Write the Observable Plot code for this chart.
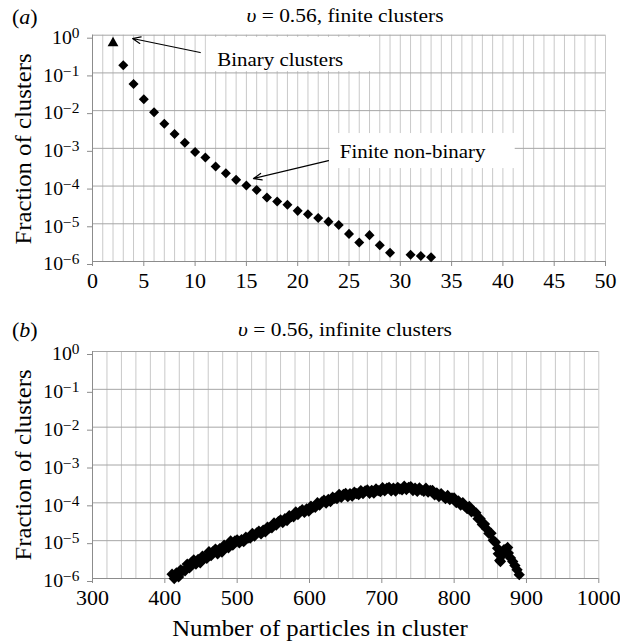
<!DOCTYPE html>
<html>
<head>
<meta charset="utf-8">
<script src="https://cdn.jsdelivr.net/npm/d3@7"></script>
<script src="https://cdn.jsdelivr.net/npm/@observablehq/plot@0.6"></script>
<style>
  body { margin: 0; background: #fff; }
  #fig { position: relative; width: 620px; height: 643px; overflow: hidden;
         font-family: "Liberation Serif", "Times New Roman", serif; color: #000; }
  #fig svg { position: absolute; left: 0; }
  .lbl { position: absolute; line-height: 1; white-space: nowrap; }
</style>
</head>
<body>
<div id="fig"></div>
<script>
// ---- data -------------------------------------------------------------
// (a) finite clusters: binary clusters (size 2) and finite non-binary clusters
const binarySize = [2];
const binaryFrac = [0.62];

const finiteSize = [3, 4, 5, 6, 7, 8, 9, 10, 11, 12, 13, 14, 15, 16, 17, 18, 19, 20,
                    21, 22, 23, 24, 25, 26, 27, 28, 29, 31, 32, 33];
const finiteFrac = [0.16, 0.051, 0.020, 0.0091, 0.0045, 0.0024, 0.0014, 0.00080, 0.00057,
                    0.00033, 0.00022, 0.000146, 0.000103, 0.000079, 0.000050, 0.000039,
                    0.000032, 0.000022, 0.000018, 0.0000142, 0.0000114, 0.0000093,
                    0.0000054, 0.0000032, 0.0000050, 0.0000027, 0.0000017, 0.0000015,
                    0.0000014, 0.0000013];

// (b) infinite (spanning) clusters
const infiniteSize = [
  410, 413, 416, 419, 422, 425, 428, 431, 434, 437, 440, 443, 446, 449, 452, 455, 458, 461,
  464, 467, 470, 473, 476, 479, 482, 485, 488, 491, 494, 497, 500, 503, 506, 509, 512, 515,
  518, 521, 524, 527, 530, 533, 536, 539, 542, 545, 548, 551, 554, 557, 560, 563, 566, 569,
  572, 575, 578, 581, 584, 587, 590, 593, 596, 599, 602, 605, 608, 611, 614, 617, 620, 623,
  626, 629, 632, 635, 638, 641, 644, 647, 650, 653, 656, 659, 662, 665, 668, 671, 674, 677,
  680, 683, 686, 689, 692, 695, 698, 701, 704, 707, 710, 713, 716, 719, 722, 725, 728, 731,
  734, 737, 740, 743, 746, 749, 752, 755, 758, 761, 764, 767, 770, 773, 776, 779, 782, 785,
  788, 791, 794, 797, 800, 803, 806, 809, 812, 815, 818, 821, 824, 827, 830, 833, 836, 839,
  842, 845, 848, 851, 854, 857, 860, 861, 863, 864, 866, 869, 870, 872, 874, 875, 878, 881,
  884, 887, 890];
const infiniteFrac = [
  1.3e-6, 1.0e-6, 1.4e-6, 1.1e-6, 1.7e-6, 1.6e-6, 1.6e-6, 2.4e-6, 1.9e-6, 2.7e-6,
  3.1e-6, 2.4e-6, 3.2e-6, 2.6e-6, 3.9e-6, 3.5e-6, 3.4e-6, 5.1e-6, 4.0e-6, 5.2e-6,
  6.0e-6, 4.5e-6, 6.2e-6, 5.0e-6, 7.6e-6, 6.8e-6, 6.5e-6, 9.8e-6, 7.6e-6, 9.9e-6,
  1.05e-5, 8.7e-6, 1.07e-5, 9.4e-6, 1.24e-5, 1.17e-5, 1.16e-5, 1.55e-5, 1.32e-5, 1.60e-5,
  1.78e-5, 1.51e-5, 1.91e-5, 1.70e-5, 2.29e-5, 2.19e-5, 2.19e-5, 2.95e-5, 2.57e-5, 3.16e-5,
  3.55e-5, 3.02e-5, 3.80e-5, 3.39e-5, 4.57e-5, 4.32e-5, 4.27e-5, 5.75e-5, 4.90e-5, 5.96e-5,
  6.61e-5, 5.56e-5, 6.92e-5, 6.03e-5, 8.13e-5, 7.67e-5, 7.59e-5, 1.01e-4, 8.71e-5, 1.06e-4,
  1.17e-4, 9.9e-5, 1.23e-4, 1.08e-4, 1.41e-4, 1.32e-4, 1.29e-4, 1.68e-4, 1.40e-4, 1.66e-4,
  1.78e-4, 1.45e-4, 1.76e-4, 1.50e-4, 1.93e-4, 1.74e-4, 1.64e-4, 2.11e-4, 1.76e-4, 2.07e-4,
  2.19e-4, 1.78e-4, 2.14e-4, 1.80e-4, 2.32e-4, 2.09e-4, 1.97e-4, 2.51e-4, 2.07e-4, 2.43e-4,
  2.57e-4, 2.07e-4, 2.45e-4, 2.04e-4, 2.57e-4, 2.32e-4, 2.19e-4, 2.75e-4, 2.24e-4, 2.57e-4,
  2.69e-4, 2.11e-4, 2.45e-4, 2.0e-4, 2.48e-4, 2.16e-4, 2.0e-4, 2.43e-4, 1.91e-4, 2.14e-4,
  2.14e-4, 1.62e-4, 1.84e-4, 1.46e-4, 1.76e-4, 1.48e-4, 1.30e-4, 1.57e-4, 1.22e-4, 1.35e-4,
  1.35e-4, 1.01e-4, 1.12e-4, 8.7e-5, 1.01e-4, 8.2e-5, 7.0e-5, 8.0e-5, 5.8e-5, 6.0e-5,
  5.5e-5, 3.8e-5, 3.8e-5, 2.66e-5, 2.75e-5, 2.04e-5, 1.55e-5, 1.58e-5, 1.02e-5, 9.1e-6,
  6.3e-6, 4.5e-6, 3.0e-6, 2.8e-6, 4.0e-6, 5.8e-6, 4.8e-6, 6.0e-6, 6.6e-6, 4.7e-6,
  3.5e-6, 2.8e-6, 2.2e-6, 1.7e-6, 1.26e-6];

// axis ticks
const fracTicks = [1e-6, 1e-5, 1e-4, 1e-3, 1e-2, 1e-1, 1];
const finiteTicks = [0, 5, 10, 15, 20, 25, 30, 35, 40, 45, 50];
const infiniteTicks = [300, 400, 500, 600, 700, 800, 900, 1000];

// call-outs in panel (a): label box, label anchor and arrow (tail -> head)
const notesA = [
  {label: "Binary clusters", bx1: 11.1, bx2: 27.3, by1: 0.87, by2: 0.109,
   lx: 18.3, ly: 0.228, tx: 10.5, ty: 0.347, hx: 3.9, hy: 0.818},
  {label: "Finite non-binary", bx1: 23.15, bx2: 41.2, by1: 2.47e-3, by2: 2.91e-4,
   lx: 31.2, ly: 8.28e-4, tx: 23.0, ty: 4.72e-4, hx: 15.69, hy: 1.58e-4}
];

// ---- drawing ----------------------------------------------------------
const serif = '"Liberation Serif", "Times New Roman", serif';
const K = 1.1; // horizontal widening of all lettering

const binary = binarySize.map((n, i) => ({n, f: binaryFrac[i]}));
const finite = finiteSize.map((n, i) => ({n, f: finiteFrac[i]}));
const infinite = infiniteSize.map((n, i) => ({n, f: infiniteFrac[i]}));

// filled square standing on its corner
const diamond = {
  draw(ctx, size) {
    const a = Math.sqrt(size / 2);
    ctx.moveTo(0, -a); ctx.lineTo(a, 0); ctx.lineTo(0, a); ctx.lineTo(-a, 0); ctx.closePath();
  }
};

const SUP = {"0": "⁰", "1": "¹", "2": "²", "3": "³", "4": "⁴", "5": "⁵", "6": "⁶",
             "7": "⁷", "8": "⁸", "9": "⁹", "-": "⁻"};
const UNSUP = Object.fromEntries(Object.entries(SUP).map(([a, b]) => [b, a === "-" ? "\u2212" : a]));
const pow10 = d => "10" + String(Math.round(Math.log10(d))).replace(/./g, c => SUP[c]);

// rewrite "10⁻³" style labels as a base plus a raised exponent
function raiseExponents(svg) {
  svg.querySelectorAll("text").forEach(t => {
    const m = /^10([⁰¹²³⁴⁵⁶⁷⁸⁹⁻]+)$/.exec(t.textContent);
    if (!m) return;
    const ns = "http://www.w3.org/2000/svg";
    t.textContent = "";
    const base = document.createElementNS(ns, "tspan");
    base.textContent = "10";
    const exp = document.createElementNS(ns, "tspan");
    exp.textContent = [...m[1]].map(c => UNSUP[c]).join("");
    exp.setAttribute("font-size", "14");
    exp.setAttribute("dy", "-6");
    t.append(base, exp);
  });
}

// widen every glyph run about its own anchor point
function widen(svg, k) {
  svg.querySelectorAll("text").forEach(t => {
    const x = t.getAttribute("x");
    let tr = t.getAttribute("transform") || "";
    if (x !== null && /^-?[\d.]+$/.test(x)) {
      tr += ` translate(${x},0)`;
      t.removeAttribute("x");
    }
    t.setAttribute("transform", `${tr} scale(${k},1)`);
  });
}

function panel({top, height, marginTop, marginBottom, marginRight, xDomain, xGrid, xTicks, marks}) {
  const svg = Plot.plot({
    width: 620, height, marginTop, marginBottom, marginLeft: 92, marginRight,
    style: {fontFamily: serif, fontSize: "18px", background: "transparent",
            overflow: "visible", color: "black"},
    x: {domain: xDomain, label: null},
    y: {type: "log", domain: [1e-6, 1], label: null},
    marks: [
      Plot.gridX(xGrid, {stroke: "#c9c9c9", strokeOpacity: 1}),
      Plot.gridY(fracTicks, {stroke: "#a6a6a6", strokeOpacity: 1}),
      Plot.ruleX([xDomain[0]], {stroke: "#8c8c8c"}),
      Plot.ruleY([1e-6], {stroke: "#8c8c8c"}),
      Plot.axisX(xTicks, {tickSize: 5, tickPadding: 7, stroke: "#8c8c8c", fontSize: 20,
                          tickFormat: d => `${d}`, label: null}),
      Plot.axisY(fracTicks, {tickSize: 5, tickPadding: 8, stroke: "#8c8c8c", fontSize: 18,
                             tickFormat: pow10, dy: 3, label: null}),
      ...marks
    ]
  });
  raiseExponents(svg);
  widen(svg, K);
  svg.style.top = `${top}px`;
  return svg;
}

const fig = document.getElementById("fig");

fig.append(panel({
  top: 27, height: 273, marginTop: 7.7, marginBottom: 39, marginRight: 15,
  xDomain: [0, 50], xGrid: d3.range(0, 51, 1), xTicks: finiteTicks,
  marks: [
    Plot.rect(notesA, {x1: "bx1", x2: "bx2", y1: "by1", y2: "by2", fill: "white"}),
    Plot.arrow(notesA, {x1: "tx", y1: "ty", x2: "hx", y2: "hy", stroke: "black",
                        strokeWidth: 1.2, headLength: 11, headAngle: 45}),
    Plot.text(notesA, {x: "lx", y: "ly", text: "label", fontSize: 19, fill: "black"}),
    Plot.dot(binary, {x: "n", y: "f", symbol: "triangle", r: 4, fill: "black"}),
    Plot.dot(finite, {x: "n", y: "f", symbol: diamond, r: 4, fill: "black"})
  ]
}));

fig.append(panel({
  top: 342, height: 270, marginTop: 9, marginBottom: 34, marginRight: 21.7,
  xDomain: [300, 1000], xGrid: d3.range(300, 1001, 20), xTicks: infiniteTicks,
  marks: [
    Plot.dot(infinite, {x: "n", y: "f", symbol: diamond, r: 4.5, fill: "black"})
  ]
}));

// ---- lettering around the two panels ------------------------------------
function label(html, {x, baseline, size, anchor = "middle", k = K}) {
  const el = document.createElement("div");
  el.className = "lbl";
  el.innerHTML = html;
  el.style.fontSize = `${size}px`;
  el.style.left = `${x}px`;
  el.style.top = `${baseline - 0.8375 * size}px`;
  if (anchor === "middle") {
    el.style.transform = `translateX(-50%) scaleX(${k})`;
  } else {
    el.style.transformOrigin = "0 0";
    el.style.transform = `scaleX(${k})`;
  }
  fig.append(el);
}

function sideLabel(text, {cx, cy, size, k = K}) {
  const el = document.createElement("div");
  el.className = "lbl";
  el.textContent = text;
  el.style.fontSize = `${size}px`;
  el.style.left = `${cx}px`;
  el.style.top = `${cy}px`;
  el.style.transform = `translate(-50%,-50%) rotate(-90deg) scaleX(${k})`;
  fig.append(el);
}

label("(<i>a</i>)", {x: 12, baseline: 23.5, size: 20, anchor: "start"});
label("<i>υ</i> = 0.56, finite clusters", {x: 345, baseline: 22, size: 19.5});
label("(<i>b</i>)", {x: 12, baseline: 336.5, size: 20, anchor: "start"});
label("<i>υ</i> = 0.56, infinite clusters", {x: 345, baseline: 336.5, size: 19.5});
sideLabel("Fraction of clusters", {cx: 24.2, cy: 149, size: 22.5});
sideLabel("Fraction of clusters", {cx: 24.2, cy: 464.5, size: 22.5});
label("Number of particles in cluster", {x: 320, baseline: 636.7, size: 22.5});
</script>
</body>
</html>
